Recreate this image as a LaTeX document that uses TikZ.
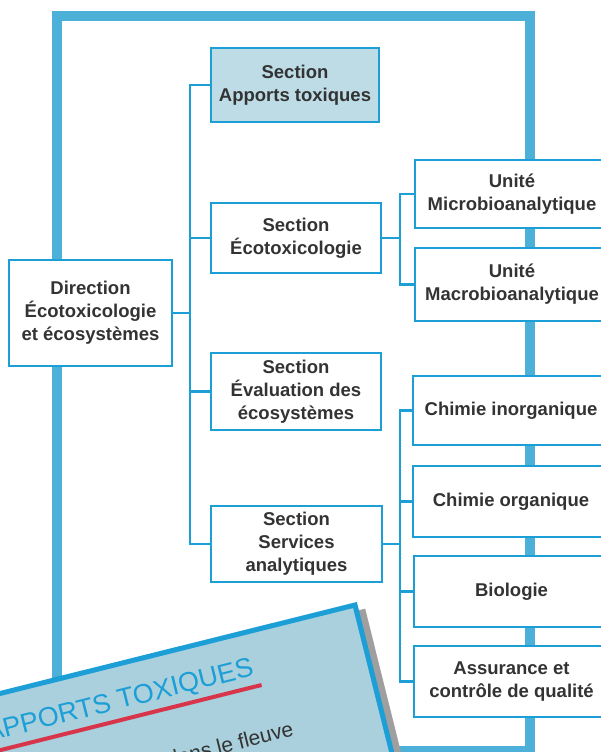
\documentclass[tikz,border=0pt]{standalone}
\usepackage{fontspec}
\setmainfont{Liberation Sans}
\definecolor{cadre}{HTML}{4DB0D8}
\definecolor{trait}{HTML}{1C9ED6}
\definecolor{bleupale}{HTML}{BDDCE6}
\definecolor{carte}{HTML}{A9D0DC}
\definecolor{texte}{HTML}{333333}
\definecolor{rouge}{HTML}{D8354B}
\begin{document}
\begin{tikzpicture}[x=1pt,y=-1pt,
    boite/.style={draw=trait, line width=2.5pt, fill=white, align=center, text=texte,
      inner sep=0pt, font=\bfseries\fontsize{18.5}{23}\selectfont},
    lien/.style={trait, line width=2.5pt}]
    \clip (0,0) rectangle (601,752);
    \fill[white] (0,0) rectangle (601,752);
    % cadre
    \draw[cadre, line width=10pt] (57,16) rectangle (530,751);
    % boites
    \node[boite, fill=bleupale, minimum width=168pt, minimum height=74pt] (apports) at (295,85) {Section\\Apports toxiques};
    \node[boite, minimum width=170pt, minimum height=70pt] (ecotox) at (296,238) {Section\\Écotoxicologie};
    \node[boite, minimum width=163pt, minimum height=106pt] (direction) at (90.5,313) {Direction\\Écotoxicologie\\et écosystèmes};
    \node[boite, minimum width=170pt, minimum height=77pt] (evaluation) at (296,391.5) {Section\\Évaluation des\\écosystèmes};
    \node[boite, minimum width=171pt, minimum height=76pt] (services) at (296.5,544) {Section\\Services\\analytiques};
    \node[boite, minimum width=194pt, minimum height=68pt] (micro) at (512,194) {Unité\\Microbioanalytique};
    \node[boite, minimum width=194pt, minimum height=73pt] (macro) at (512,284.5) {Unité\\Macrobioanalytique};
    \node[boite, minimum width=196pt, minimum height=69pt] (inorg) at (511,410.5) {Chimie inorganique};
    \node[boite, minimum width=196pt, minimum height=71pt] (org) at (511,501.5) {Chimie organique};
    \node[boite, minimum width=195pt, minimum height=71pt] (bio) at (511.5,591.5) {Biologie};
    \node[boite, minimum width=195pt, minimum height=71pt] (qualite) at (511.5,681.5) {Assurance et\\contrôle de qualité};
    % liens
    \coordinate (tronc) at (190,0);
    \coordinate (branche) at (400,0);
    \draw[lien] (apports.west) -- (apports.west -| tronc) -- (services.west -| tronc) -- (services.west);
    \foreach \s in {ecotox, evaluation}
        \draw[lien] (\s.west) -- (\s.west -| tronc);
    \draw[lien] (direction.east) -- (direction.east -| tronc);
    \draw[lien] (micro.west) -- (micro.west -| branche) -- (macro.west -| branche) -- (macro.west);
    \draw[lien] (ecotox.east) -- (ecotox.east -| branche);
    \draw[lien] (inorg.west) -- (inorg.west -| branche) -- (qualite.west -| branche) -- (qualite.west);
    \foreach \s in {org, bio}
        \draw[lien] (\s.west) -- (\s.west -| branche);
    \draw[lien] (services.east) -- (services.east -| branche);
    % carte
    \begin{scope}[shift={(355,605)}, rotate=14]
        \fill[gray!75] (2,6) rectangle (9,300);
        \fill[carte] (-520,0) rectangle (0,300);
        \draw[trait, line width=5pt] (-520,0) -- (0,0) -- (0,300);
        \draw[rouge, line width=4pt] (-420,55) -- (-110,55);
        \node[anchor=base east, transform shape, text=trait, inner sep=0pt,
            font=\fontsize{27}{27}\selectfont] (titre) at (-114,44) {APPORTS TOXIQUES};
        \node[anchor=base east, transform shape, text=texte, inner sep=0pt,
            font=\fontsize{21}{21}\selectfont] (fleuve) at (-90,112) {dans le fleuve};
    \end{scope}
\end{tikzpicture}
\end{document}
